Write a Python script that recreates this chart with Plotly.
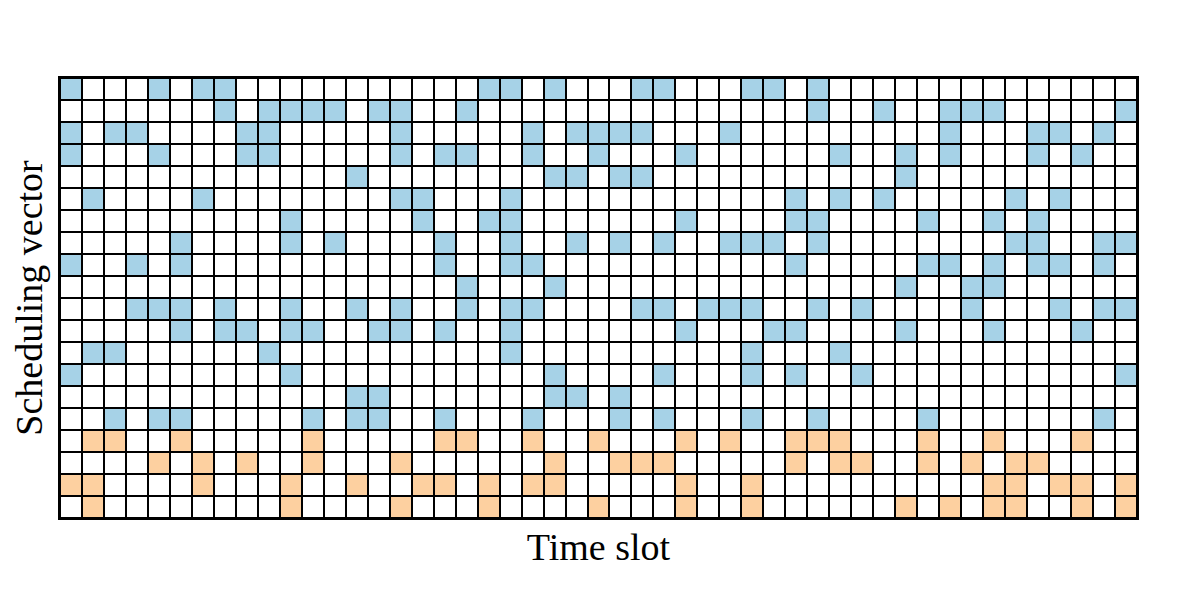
import numpy as np
import plotly.graph_objects as go

n_slots = 49

# active time slots for each row of the scheduling vector (top to bottom)
blue_rows = [
    [0, 4, 6, 7, 19, 20, 22, 26, 27, 31, 32, 34],
    [7, 9, 10, 11, 12, 14, 15, 18, 34, 37, 40, 41, 42, 48],
    [0, 2, 3, 8, 9, 15, 21, 23, 24, 25, 26, 30, 40, 44, 45, 47],
    [0, 4, 8, 9, 15, 17, 18, 21, 24, 28, 35, 38, 40, 44, 46],
    [13, 22, 23, 25, 26, 38],
    [1, 6, 15, 16, 20, 33, 35, 37, 43, 45],
    [10, 16, 19, 20, 28, 33, 34, 39, 42, 44],
    [5, 10, 12, 17, 20, 23, 25, 27, 30, 31, 32, 34, 43, 44, 47, 48],
    [0, 3, 5, 17, 20, 21, 33, 39, 40, 42, 44, 45, 47],
    [18, 22, 38, 41, 42],
    [3, 4, 5, 7, 10, 13, 15, 18, 20, 21, 26, 27, 29, 30, 31, 34, 36, 41, 45, 47, 48],
    [5, 7, 8, 10, 11, 14, 15, 17, 20, 28, 32, 33, 38, 42, 46],
    [1, 2, 9, 20, 31, 35],
    [0, 10, 22, 27, 31, 33, 36, 48],
    [13, 14, 22, 23, 25],
    [2, 4, 5, 11, 13, 14, 17, 21, 25, 27, 31, 34, 39, 47],
]

orange_rows = [
    [1, 2, 5, 11, 17, 18, 21, 24, 28, 30, 33, 34, 35, 39, 42, 46],
    [4, 6, 8, 11, 15, 22, 25, 26, 27, 33, 35, 36, 39, 41, 43, 44],
    [0, 1, 6, 10, 13, 16, 17, 19, 21, 22, 28, 31, 42, 43, 45, 46, 48],
    [1, 10, 15, 19, 24, 28, 31, 38, 40, 42, 43, 46, 48],
]

# 0 = empty, 1 = blue, 2 = orange
z = np.zeros((len(blue_rows) + len(orange_rows), n_slots))
for i, cols in enumerate(blue_rows):
    z[i, cols] = 1
for i, cols in enumerate(orange_rows):
    z[len(blue_rows) + i, cols] = 2

fig = go.Figure(go.Heatmap(
    z=z,
    zmin=0, zmax=2,
    colorscale=[
        [0, "white"], [0.333, "white"],
        [0.333, "#a6d2e7"], [0.667, "#a6d2e7"],
        [0.667, "#fdd0a0"], [1, "#fdd0a0"],
    ],
    showscale=False,
    xgap=2, ygap=2,
    hoverinfo="skip",
))

font = dict(family="Liberation Serif, Times New Roman, serif", size=38, color="black")

# page body has an 8px margin, so the figure is shrunk by that much
fig.update_layout(
    width=1188, height=590,
    margin=dict(l=52, r=59, t=70, b=80),
    plot_bgcolor="black",
    paper_bgcolor="white",
    font=font,
)
fig.update_xaxes(
    range=[-0.5, n_slots - 0.5],
    showgrid=False, zeroline=False, showticklabels=False, ticks="",
    showline=True, linecolor="black", linewidth=2, mirror=True,
    automargin=False,
    title=dict(text="Time slot", font=font, standoff=14),
)
fig.update_yaxes(
    range=[z.shape[0] - 0.5, -0.5],
    showgrid=False, zeroline=False, showticklabels=False, ticks="",
    showline=True, linecolor="black", linewidth=2, mirror=True,
    automargin=False,
    title=dict(text="Scheduling vector", font=font, standoff=8),
)

fig.write_html("out.html")
